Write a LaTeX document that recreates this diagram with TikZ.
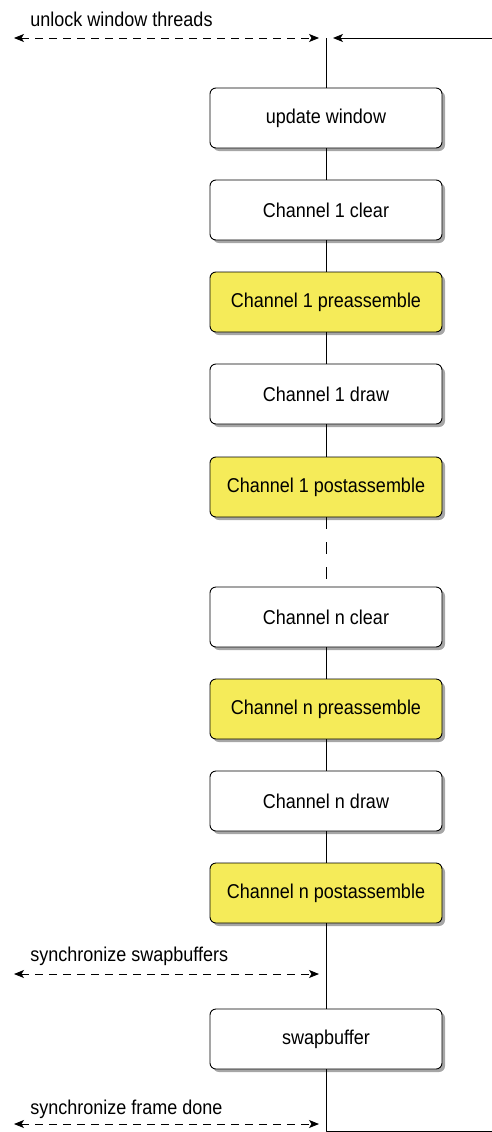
\documentclass[tikz,border=0pt]{standalone}
\usepackage{fontspec}
\setmainfont[FakeStretch=0.9]{Liberation Sans}
\usetikzlibrary{arrows.meta}
\usetikzlibrary{shadows}
\definecolor{asmyellow}{RGB}{245,235,89}

\begin{document}
\begin{tikzpicture}[>={Stealth[length=10bp,width=8bp,inset=2.5bp]},line join=bevel,line width=0.9bp,
  font=\fontsize{20bp}{23bp}\selectfont,
  task/.style={draw,rounded corners=6bp,minimum width=232bp,minimum height=60bp,fill=white,
    drop shadow={shadow xshift=3bp,shadow yshift=-3bp,fill=black!35,opacity=1}},
  asm/.style={task,fill=asmyellow},
  sync/.style={<->,dash pattern=on 8bp off 6bp},
  lbl/.style={anchor=west,inner sep=0pt}]
\useasboundingbox (0bp,0bp) rectangle (492bp,-1132bp);
%%
\coordinate (top) at (326bp,-38bp);
\coordinate (loop_in) at (333bp,-38bp);
\coordinate (loop_r) at (492bp,-38bp);
\coordinate (bot) at (326bp,-1131bp);
\coordinate (bot_r) at (492bp,-1131bp);
\node (node_0) at (326bp,-118bp) [task] {update window};
  \node (node_1) at (326bp,-210bp) [task] {Channel 1 clear};
  \node (node_2) at (326bp,-302bp) [asm] {Channel 1 preassemble};
  \node (node_3) at (326bp,-394bp) [task] {Channel 1 draw};
  \node (node_4) at (326bp,-487bp) [asm] {Channel 1 postassemble};
  \node (node_5) at (326bp,-617bp) [task] {Channel n clear};
  \node (node_6) at (326bp,-709bp) [asm] {Channel n preassemble};
  \node (node_7) at (326bp,-801bp) [task] {Channel n draw};
  \node (node_8) at (326bp,-893bp) [asm] {Channel n postassemble};
  \node (node_9) at (326bp,-1039bp) [task] {swapbuffer};
  \draw (top) -- (node_0);
  \draw (node_0) -- (node_1);
  \draw (node_1) -- (node_2);
  \draw (node_2) -- (node_3);
  \draw (node_3) -- (node_4);
  \draw [dash pattern=on 12bp off 13bp] (node_4) -- (node_5);
  \draw (node_5) -- (node_6);
  \draw (node_6) -- (node_7);
  \draw (node_7) -- (node_8);
  \draw (node_8) -- (node_9);
  \draw (node_9) -- (bot) -- (bot_r);
  \draw [->] (loop_r) -- (loop_in);
%%
\coordinate (sync_0_l) at (14bp,-38bp);
  \coordinate (sync_0_r) at (319bp,-38bp);
  \coordinate (sync_1_l) at (14bp,-974bp);
  \coordinate (sync_1_r) at (319bp,-974bp);
  \coordinate (sync_2_l) at (14bp,-1124bp);
  \coordinate (sync_2_r) at (319bp,-1124bp);
  \draw [sync] (sync_0_l) -- (sync_0_r);
  \draw [sync] (sync_1_l) -- (sync_1_r);
  \draw [sync] (sync_2_l) -- (sync_2_r);
  \node (lbl_0) at (30bp,-19bp) [lbl] {unlock window threads};
  \node (lbl_1) at (30bp,-956bp) [lbl] {synchronize swapbuffers};
  \node (lbl_2) at (30bp,-1109bp) [lbl] {synchronize frame done};
%
\end{tikzpicture}
\end{document}
